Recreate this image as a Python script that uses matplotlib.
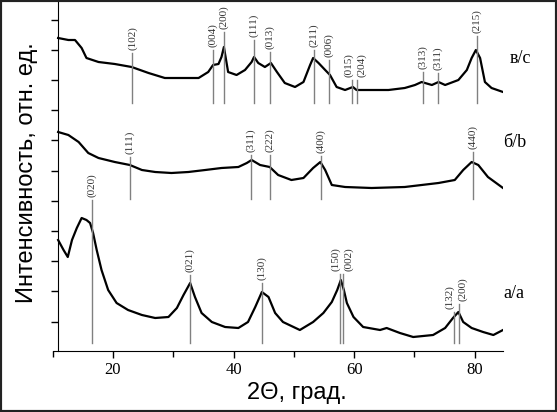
import matplotlib
matplotlib.use("Agg")
import matplotlib.pyplot as plt
from matplotlib.patches import Rectangle
from matplotlib.ticker import MultipleLocator

# top pattern (в/с)
c_x = [10.9, 12.6, 13.7, 14.8, 15.6, 17.6, 20.3, 23.1, 25.9, 28.6, 31.4, 34.2, 35.8,
       36.6, 37.5, 38.0, 38.4, 39.1, 40.5, 41.9, 43.0, 43.4, 44.1, 45.2, 46.2, 47.2,
       48.5, 50.2, 51.6, 52.7, 53.2, 54.1, 55.2, 56.0, 57.1, 58.5, 59.8, 60.4, 62.9,
       65.7, 68.4, 70.1, 71.2, 72.9, 74.0, 75.1, 77.3, 78.7, 79.5, 80.2, 80.9, 81.7,
       82.8, 84.7]
c_y = [313, 311, 311, 303, 293, 289, 287, 284, 278, 273, 273, 273, 279,
       286, 287, 294, 304, 279, 276, 281, 289, 294, 288, 284, 288, 279,
       268, 264, 269, 286, 293, 288, 281, 276, 264, 261, 264, 261, 261,
       261, 263, 266, 269, 266, 269, 266, 271, 281, 293, 301, 293, 269,
       263, 259]

# middle pattern (б/b)
b_x = [10.9, 12.6, 14.3, 15.9, 17.6, 20.3, 22.8, 24.8, 27.0, 29.7, 32.5, 35.3, 38.0,
       40.8, 42.2, 43.0, 44.4, 46.0, 47.4, 49.6, 51.6, 53.2, 54.4, 55.2, 56.3, 58.5,
       62.9, 68.4, 74.0, 76.7, 78.1, 79.5, 80.6, 82.2, 84.7]
b_y = [219, 216, 209, 198, 193, 189, 186, 181, 179, 178, 179, 181, 183,
       184, 188, 191, 186, 184, 176, 171, 173, 183, 189, 181, 166, 164,
       163, 164, 168, 171, 181, 189, 186, 174, 163]

# bottom pattern (а/а)
a_x = [10.9, 11.8, 12.5, 13.2, 14.0, 14.8, 15.6, 16.2, 16.7, 17.3, 18.1, 19.2, 20.6,
       22.5, 24.8, 27.0, 29.2, 30.6, 31.7, 32.8, 33.6, 34.7, 36.4, 38.6, 40.8, 42.4,
       43.6, 44.7, 45.8, 46.9, 48.2, 51.0, 53.2, 54.9, 56.3, 57.2, 57.8, 58.3, 58.8,
       59.9, 61.5, 64.3, 65.4, 67.6, 69.8, 73.1, 75.1, 76.4, 77.3, 78.1, 79.5, 81.4,
       83.1, 84.7]
a_y = [111, 101, 94, 111, 123, 133, 131, 128, 118, 101, 81, 61, 48,
       41, 36, 33, 34, 43, 56, 68, 54, 38, 29, 24, 23, 29,
       44, 59, 54, 38, 29, 21, 29, 38, 49, 61, 71, 61, 48,
       34, 24, 21, 23, 18, 14, 16, 23, 33, 39, 29, 23, 19,
       16, 21]

# reflex positions, labels, line tops
c_pk = [23.2, 36.6, 38.4, 43.4, 46.0, 53.3, 55.8, 59.6, 60.5, 71.4, 73.9, 80.4]
c_hkl = ["(102)", "(004)", "(200)", "(111)", "(013)", "(211)", "(006)", "(015)",
         "(204)", "(313)", "(311)", "(215)"]
c_top = [298, 301, 319, 311, 299, 301, 291, 271, 271, 279, 278, 315]

b_pk = [22.8, 42.9, 46.0, 54.5, 79.7]
b_hkl = ["(111)", "(311)", "(222)", "(400)", "(440)"]
b_top = [194, 196, 196, 195, 199]

a_pk = [16.5, 32.8, 44.7, 57.6, 58.1, 76.5, 77.4]
a_hkl = ["(020)", "(021)", "(130)", "(150)", "(002)", "(132)", "(200)"]
a_top = [151, 76, 68, 77, 77, 39, 47]

serif = "Liberation Serif"
sans = "Liberation Sans"

fig = plt.figure(figsize=(5.57, 4.12), dpi=100)
ax = fig.add_axes([52.7 / 557, 61 / 412, 450.3 / 557, 350 / 412])

for xs, ys in [(c_x, c_y), (b_x, b_y), (a_x, a_y)]:
    ax.plot(xs, ys, color="black", lw=1.6)

# small sideways shifts (points) for crowded labels
shift = {("a", "(150)"): -3, ("a", "(002)"): 4, ("a", "(132)"): -3, ("a", "(200)"): 3,
         ("c", "(015)"): -2, ("c", "(204)"): 3}

for key, pk, hkl, top, base in [("c", c_pk, c_hkl, c_top, 248),
                                ("b", b_pk, b_hkl, b_top, 152),
                                ("a", a_pk, a_hkl, a_top, 8)]:
    for x, lab, t in zip(pk, hkl, top):
        ax.plot([x, x], [base, t], color="#808080", lw=1.0)
        ax.annotate(lab, (x, t), xytext=(shift.get((key, lab), 0), 2),
                    textcoords="offset points", rotation=90, ha="center",
                    va="bottom", fontsize=8, family=serif, color="#333333")

ax.text(85.8, 293, "в/с", fontsize=13, family=serif, va="center", ha="left")
ax.text(84.8, 209, "б/b", fontsize=13, family=serif, va="center", ha="left")
ax.text(84.8, 57, "а/а", fontsize=13, family=serif, va="center", ha="left")

ax.set_xlim(10, 84.7)
ax.set_ylim(0, 350)
ax.spines["top"].set_visible(False)
ax.spines["right"].set_visible(False)
ax.spines["left"].set_position(("data", 10.9))
ax.set_xticks([20, 40, 60, 80])
ax.xaxis.set_minor_locator(MultipleLocator(10))
ax.set_yticks([29, 60, 90, 120, 150, 180, 211, 241, 271, 301, 331])
ax.set_yticklabels([])
ax.tick_params(axis="x", which="major", direction="out", length=5, width=1,
               labelsize=12, pad=3)
ax.tick_params(axis="x", which="minor", direction="out", length=4, width=1)
ax.tick_params(axis="y", direction="out", length=5, width=1)
for lab in ax.get_xticklabels():
    lab.set_family(serif)

fig.text(0.533, 0.046, "2Θ, град.", fontsize=17, family=sans, ha="center", va="center")
fig.text(0.0485, 0.58, "Интенсивность, отн. ед.", fontsize=17, family=sans,
         rotation=90, ha="center", va="center")

fig.patches.append(Rectangle((0, 0), 1, 1, transform=fig.transFigure, fill=False,
                             lw=3, ec="#222222"))

fig.savefig("out.png", dpi=100)
